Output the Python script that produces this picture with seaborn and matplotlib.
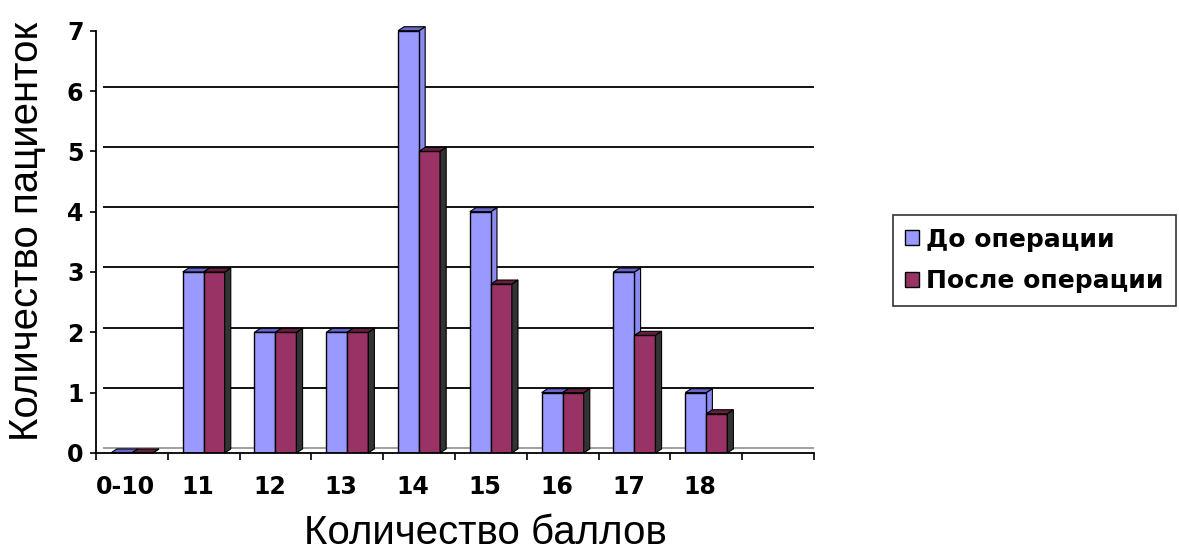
import matplotlib
matplotlib.use("Agg")
import matplotlib.pyplot as plt
from matplotlib.patches import Polygon
from matplotlib.transforms import ScaledTranslation, offset_copy
import pandas as pd
import seaborn as sns
import numpy as np

# данные
categories = ["0-10", "11", "12", "13", "14", "15", "16", "17", "18"]
before_op = [0, 3, 2, 2, 7, 4, 1, 3, 1]
after_op = [0, 3, 2, 2, 5, 2.8, 1, 1.95, 0.65]
series_names = ["До операции", "После операции"]
n_slots = 10  # в оригинале ось продолжается на один пустой интервал

df = pd.DataFrame({
    "cat": categories * 2,
    "val": before_op + after_op,
    "grp": [series_names[0]] * len(categories) + [series_names[1]] * len(categories),
})

sns.set_style("white")
plt.rcParams["font.family"] = ["DejaVu Sans"]
plt.rcParams["text.color"] = "black"
plt.rcParams["axes.labelcolor"] = "black"
plt.rcParams["xtick.color"] = "black"
plt.rcParams["ytick.color"] = "black"

fig = plt.figure(figsize=(11.79, 5.53), dpi=100)
ax = fig.add_axes([0.0814, 0.181, 0.609, 0.7635])

front = ["#9999FF", "#993366"]
top_c = ["#6666CC", "#66203F"]
side_c = ["#8A8AF0", "#333333"]

sns.barplot(data=df, x="cat", y="val", hue="grp", order=categories,
            hue_order=series_names, palette=front, width=0.585,
            edgecolor="black", linewidth=1.0, saturation=1, ax=ax, zorder=2)

ax.set_xlim(-0.5, n_slots - 0.5)
ax.set_ylim(0, 7)

# псевдо-3D: боковые и верхние грани
dx, dy = 0.085, 0.066
for i, cont in enumerate(ax.containers):
    for p in cont.patches:
        x0, w, h = p.get_x(), p.get_width(), p.get_height()
        x1 = x0 + w
        side = Polygon([(x1, 0), (x1 + dx, dy), (x1 + dx, h + dy), (x1, h)],
                       closed=True, facecolor=side_c[i], edgecolor="black",
                       linewidth=0.8, zorder=1 if i == 0 else 2.5, clip_on=False)
        top = Polygon([(x0, h), (x0 + dx, h + dy), (x1 + dx, h + dy), (x1, h)],
                      closed=True, facecolor=top_c[i], edgecolor="black",
                      linewidth=0.8, zorder=1 if i == 0 else 2.5, clip_on=False)
        ax.add_patch(side)
        ax.add_patch(top)

# сетка на задней стенке
wall = ax.transData + ScaledTranslation(0.07, 0.045, fig.dpi_scale_trans)
ax.hlines(np.arange(1, 7), -0.5, n_slots - 0.5, colors="black", linewidth=1.3,
          transform=wall, zorder=0.5)
ax.hlines([0], -0.5, n_slots - 0.5, colors="#999999", linewidth=1.3,
          transform=wall, zorder=0.5)

# оси
for s in ["top", "right"]:
    ax.spines[s].set_visible(False)
for s in ["left", "bottom"]:
    ax.spines[s].set_color("black")
    ax.spines[s].set_linewidth(1.3)

ax.set_yticks(range(0, 8))
ax.tick_params(axis="y", length=4, width=1.2, color="black", pad=5,
               labelsize=17, left=True, labelcolor="black")
for lab in ax.get_yticklabels():
    lab.set_fontweight("bold")

ax.set_xticks(np.arange(-0.5, n_slots, 1))
ax.set_xticklabels([""] * (n_slots + 1))
ax.set_xticks(np.arange(len(categories)), minor=True)
ax.set_xticklabels(categories, minor=True, fontsize=17, fontweight="bold", color="black")
ax.tick_params(axis="x", which="major", length=5, width=1.2, color="black", bottom=True)
ax.tick_params(axis="x", which="minor", length=0, pad=16)
for lab in ax.get_xticklabels(minor=True):
    lab.set_transform(offset_copy(lab.get_transform(), fig=fig, x=-6, units="dots"))

ax.set_xlabel("Количество баллов", fontsize=29, color="black",
              family=["Liberation Sans", "DejaVu Sans"])
ax.set_ylabel("Количество пациенток", fontsize=29, color="black",
              family=["Liberation Sans", "DejaVu Sans"])
ax.xaxis.set_label_coords(0.543, -0.145)
ax.yaxis.set_label_coords(-0.07, 0.524)

handles, labels = ax.get_legend_handles_labels()
leg = ax.legend(handles, labels, loc="upper left", bbox_to_anchor=(0.757, 0.611),
                bbox_transform=fig.transFigure, frameon=True, fancybox=False,
                edgecolor="black", handlelength=0.55, handleheight=0.55,
                handletextpad=0.3, labelspacing=0.7, borderpad=0.5,
                borderaxespad=0, prop={"weight": "bold", "size": 18})
leg.get_frame().set_linewidth(1.2)
for t in leg.get_texts():
    t.set_color("black")

fig.savefig("out.png", dpi=100)
